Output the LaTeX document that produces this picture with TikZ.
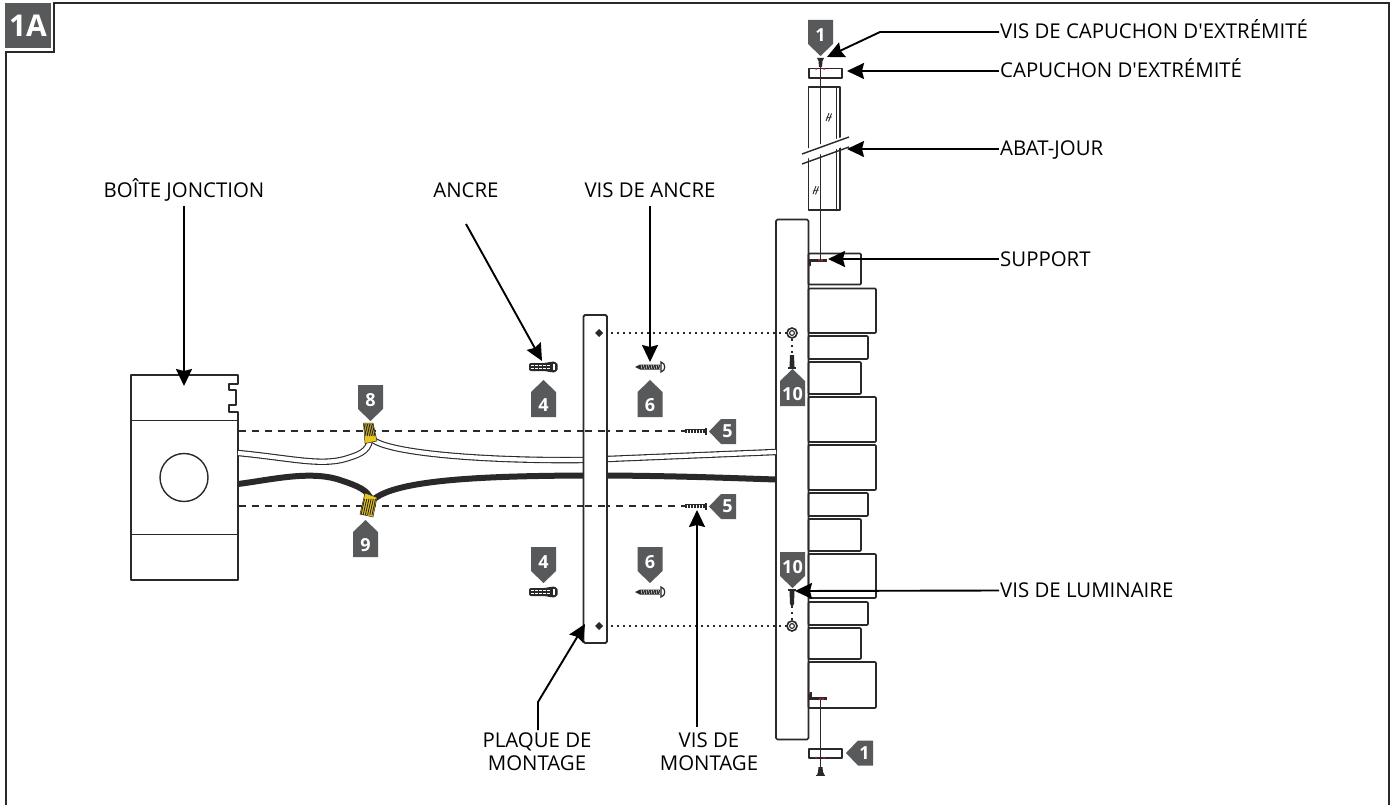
\documentclass[tikz,border=0pt]{standalone}
\usepackage{fontspec}
\newfontfamily\labfont{Open Sans}
\newfontfamily\tagfont{Open Sans}
\usetikzlibrary{arrows.meta,calc}
\definecolor{tagc}{HTML}{58595B}
\definecolor{ink}{HTML}{2A2829}
\definecolor{nut}{HTML}{E8C61E}
\definecolor{redd}{HTML}{D8202A}
\tikzset{
 lab/.style={font=\labfont\fontsize{20.4}{23}\selectfont,text=black,inner sep=0pt,align=center},
 lead/.style={draw=black,line width=1.9pt,-{Stealth[length=17pt,width=16pt,inset=2pt]},line join=miter},
 partline/.style={draw=ink,line width=1.7pt,line join=round},
 tagbody/.style={fill=tagc,draw=none},
 tagtxt/.style={text=white,inner sep=0pt,font=\tagfont\bfseries\fontsize{18}{18}\selectfont},
 dot/.style={draw=ink,line width=1.3pt,dash pattern=on 2pt off 4pt},
 dsh/.style={draw=ink,line width=1.2pt,dash pattern=on 7pt off 6pt},
}
\newcommand{\tagdown}[4]{\fill[tagbody] (#2-12.5,#3) -- (#2+12.5,#3) -- (#2+12.5,#3+24) -- (#2,#3+36) -- (#2-12.5,#3+24) -- cycle;
 \node[tagtxt] (#1) at (#2,#3+15) {#4};}
\newcommand{\tagup}[4]{\fill[tagbody] (#2,#3) -- (#2+12.5,#3+12) -- (#2+12.5,#3+37) -- (#2-12.5,#3+37) -- (#2-12.5,#3+12) -- cycle;
 \node[tagtxt] (#1) at (#2,#3+25) {#4};}
\newcommand{\tagleft}[4]{\fill[tagbody] (#2,#3) -- (#2+12,#3-12.5) -- (#2+27,#3-12.5) -- (#2+27,#3+12.5) -- (#2+12,#3+12.5) -- cycle;
 \node[tagtxt] (#1) at (#2+18.5,#3) {#4};}
\newcommand{\lampblock}[3]{\draw[partline,rounded corners=1pt] (808.5,#1) rectangle (#3,#2);}
\newcommand{\anchorpart}[2]{
 \fill[ink,rounded corners=2pt] (#1-15,#2-4) -- (#1+2,#2-4) -- (#1+7,#2-5.5) -- (#1+13,#2-5) -- (#1+14,#2) -- (#1+13,#2+5) -- (#1+7,#2+5.5) -- (#1+2,#2+4) -- (#1-15,#2+4) -- cycle;
 \draw[white,line width=.8pt,dash pattern=on 2.5pt off 1.5pt] (#1-13,#2-1.6) -- (#1+7,#2-1.6);
 \draw[white,line width=.8pt,dash pattern=on 2.5pt off 1.5pt] (#1-13,#2+1.6) -- (#1+7,#2+1.6);
 \fill[white] (#1+9,#2-3) rectangle (#1+11,#2+3);}
\newcommand{\woodscrew}[2]{
 \fill[ink] (#1-15,#2) -- (#1-10,#2-2.5) -- (#1+10,#2-2.5) -- (#1+10,#2+2.5) -- (#1-10,#2+2.5) -- cycle;
 \foreach \i in {-9,-6.5,...,9}{\draw[white,line width=.4pt] (#1+\i,#2-2) -- (#1+\i+1,#2+2);}
 \draw[ink,line width=1.2pt,fill=white] (#1+11,#2-5) .. controls (#1+16,#2-4) and (#1+16,#2+4) .. (#1+11,#2+5) -- cycle;}
\newcommand{\minscrew}[2]{
 \fill[ink] (#1-21,#2-2) rectangle (#1-1,#2+2);
 \foreach \i in {-19,-16,...,-3}{\draw[white,line width=.4pt] (#1+\i,#2-1.5) -- (#1+\i,#2+1.5);}
 \fill[ink] (#1-1,#2-3.5) rectangle (#1+1,#2+3.5);}
\newcommand{\washer}[2]{
 \draw[ink,line width=1.6pt,fill=white] (#1,#2) circle (5);
 \draw[ink,line width=1.1pt] (#1,#2) circle (2.4);}
\begin{document}
\begin{tikzpicture}[x=1pt,y=-1pt]
\useasboundingbox (0,0) rectangle (1391,805);
% frame
\draw[draw=ink,line width=2pt] (6,805) -- (6,52) -- (54,52) -- (54,3.5) -- (1388.5,3.5) -- (1388.5,805);
\fill[tagc] (5,3) rectangle (51,48);
\node[tagtxt,font=\tagfont\bfseries\fontsize{30}{30}\selectfont] (title) at (28,26) {1A};

% fixture bar and light blocks
\draw[partline,rounded corners=1.5pt,fill=white] (776,219.5) rectangle (808.5,739.5);
\foreach \a/\b/\c in {253.5/284.5/861,288.5/333/876,336/359/868,362/394/861,397/442/876,445/490/876,493/516/868,519/551/861,554/598/876,602/625/868,628/659/861,662/708/876}{\lampblock{\a}{\b}{\c}}

% shade
\draw[partline] (808.5,87) rectangle (840,210);
\draw[ink,line width=.9pt] (836,87) -- (836,210);
\draw[ink,line width=1.3pt] (820.5,60) -- (820.5,259);
\fill[white] (800,161) -- (851,144) -- (851,134) -- (800,151) -- cycle;
\draw[ink,line width=1.4pt] (802,154) -- (849,137);
\draw[ink,line width=1.4pt] (802,164) -- (849,147);
\foreach \p in {(829,117),(816,190)}{
 \draw[ink,line width=.9pt] \p ++(-3,4) -- ++(3,-8);
 \draw[ink,line width=.9pt] \p ++(-0.5,4.5) -- ++(3,-8);
 \draw[ink,line width=.6pt] \p ++(-3,1) -- ++(6,-1);}

% end caps
\draw[partline,fill=white] (809,68.5) rectangle (842,78);
\draw[ink,line width=1.3pt] (820.5,60) -- (820.5,82);
\fill[redd] (816,69) circle (1) (824,69) circle (1);
\draw[ink,line width=1.3pt] (820.5,698) -- (820.5,770);
\draw[partline,fill=white] (809,749) rectangle (842,758);
\draw[ink,line width=1.3pt] (820.5,745) -- (820.5,770);
\fill[redd] (816,757.5) circle (1) (824,757.5) circle (1);

% cap screws
\fill[ink] (817,58) -- (824,58) -- (822.5,61) -- (822,67) -- (819,67) -- (818.5,61) -- cycle;
\fill[ink] (817,775) -- (824.5,775) -- (823,772) -- (822.5,767) -- (818.5,767) -- (818,772) -- cycle;
\draw[ink,line width=.8pt] (816,775.5) -- (825,775.5);

% brackets
\fill[ink] (809,258.5) rectangle (827,262);
\fill[ink] (809,258.5) rectangle (811,266);
\fill[redd] (819,260) circle (1.1) (822,260) circle (1.1) (809.5,266) circle (.9);
\fill[ink] (809,696.5) rectangle (827,700);
\fill[ink] (809,692) rectangle (811.5,700);
\fill[redd] (820,699) circle (1.1) (823,699) circle (1.1) (809.5,693) circle (.9);

% fixing guides
\draw[dot] (599,333) -- (787,333);
\draw[dot] (599,626) -- (787,626);
\draw[dot] (792,339) -- (792,354);
\draw[dot] (792,606) -- (792,620);
\washer{792}{333}\washer{792}{626}

% fixture screws
\fill[ink] (790,355) -- (794,355) -- (794.5,367) -- (789.5,367) -- cycle;
\draw[ink,line width=1.4pt] (788,368) -- (796,368);
\fill[ink] (789.5,591) -- (794.5,591) -- (794,604) -- (792,607) -- (790,604) -- cycle;
\draw[ink,line width=1.6pt] (788,590) -- (796,590);

% junction box
\draw[partline] (131,375) -- (238,375) -- (238,384) -- (229,384) -- (229,390) -- (236,390) -- (236,405) -- (229,405) -- (229,412) -- (238,412) -- (238,580) -- (131,580) -- cycle;
\draw[partline] (131,420.5) -- (238,420.5);
\draw[partline] (131,534.5) -- (238,534.5);
\draw[partline,line width=1.4pt] (184,477.5) circle (24);

% dashed guides
\draw[dsh] (239,431) -- (685,431);
\draw[dsh] (239,506) -- (685,506);

% wires
\foreach \w/\c in {6.4/ink,4.2/white}{
 \draw[\c,line width=\w pt] (238,453) .. controls (290,458) and (320,466) .. (345,459) .. controls (358,455) and (368,452) .. (370,440);
 \draw[\c,line width=\w pt] (373,440) .. controls (395,455) and (500,461) .. (583,460) -- (607,459) -- (776,452);
}
\draw[ink,line width=6pt] (238,484) .. controls (270,480) and (310,470) .. (340,480) .. controls (358,486) and (368,490) .. (371,500);
\draw[ink,line width=6pt] (373,500) .. controls (395,480) and (480,476) .. (583,475.5) -- (607,475.5) .. controls (680,476) and (730,478) .. (776,479.5);

% mounting plate
\draw[partline,line width=1.8pt,rounded corners=1.5pt,fill=white] (583.5,315) rectangle (607,643);
\draw[dsh] (585,431) -- (606,431);
\draw[dsh] (585,506) -- (606,506);
\fill[ink] (599,329) -- (603,333) -- (599,337) -- (595,333) -- cycle;
\fill[ink] (599,622) -- (603,626) -- (599,630) -- (595,626) -- cycle;

% wire nuts
\fill[nut,draw=ink,line width=.5pt] (363.5,423) -- (373,423) -- (377,441) -- (365,443.5) -- cycle;
\foreach \k in {0,2,...,10}{\draw[ink,line width=.9pt] (364+\k*.85,424) -- (366+\k*.9,436);}
\fill[nut,draw=ink,line width=.5pt] (365,493) -- (377,497.5) -- (373,517) -- (360,514) -- cycle;
\foreach \k in {0,2,...,10}{\draw[ink,line width=.9pt] (364.5+\k*1.1,499) -- (361+\k*1.1,515);}

% small hardware
\anchorpart{544}{367}\anchorpart{544}{592}
\woodscrew{650}{367}\woodscrew{650}{592}
\minscrew{706}{431}\minscrew{706}{506}

% number tags
\tagdown{tA}{820.5}{20}{1}
\tagleft{tB}{846}{753}{1}
\tagup{tC}{792.5}{369}{10}
\tagdown{tD}{792.5}{552}{10}
\tagdown{tE}{370.5}{385}{8}
\tagup{tF}{365.5}{520}{9}
\tagup{tG}{543.5}{380}{4}
\tagup{tH}{650}{380}{6}
\tagdown{tI}{543.5}{547}{4}
\tagdown{tJ}{650}{547}{6}
\tagleft{tK}{709}{431.5}{5}
\tagleft{tL}{709}{506.5}{5}

% labels
\node[lab,anchor=base west] (l1) at (1000,39) {VIS DE CAPUCHON D'EXTRÉMITÉ};
\node[lab,anchor=base west] (l2) at (1000,78) {CAPUCHON D'EXTRÉMITÉ};
\node[lab,anchor=base west] (l3) at (1000,156) {ABAT-JOUR};
\node[lab,anchor=base west] (l4) at (1000,266) {SUPPORT};
\node[lab,anchor=base west] (l5) at (1000,597.5) {VIS DE LUMINAIRE};
\node[lab,anchor=base] (l6) at (184,197) {BOÎTE JONCTION};
\node[lab,anchor=base] (l7) at (466,197) {ANCRE};
\node[lab,anchor=base] (l8) at (650,197) {VIS DE ANCRE};
\node[lab] (l9) at (537,752) {PLAQUE DE\\MONTAGE};
\node[lab] (l10) at (709,752) {VIS DE\\MONTAGE};

% arrow targets
\coordinate (p1) at (827,57);
\coordinate (p2) at (847,71);
\coordinate (p3) at (847,149);
\coordinate (p4) at (828,259);
\coordinate (p5) at (795,591);
\coordinate (p6) at (184,386);
\coordinate (p7) at (542,361);
\coordinate (p8) at (650,362);
\coordinate (p9) at (585,624);
\coordinate (p10) at (697,510);
\coordinate (s6) at (184,206);
\coordinate (s7) at (466,224);
\coordinate (s8) at (650,206);
\coordinate (s9) at (538,730);
\coordinate (s10) at (697,727);
\draw[lead] ($(l1.base west)+(-1,-7)$) -- ++(-119,0) -- (p1);
\draw[lead] ($(l2.base west)+(-1,-7)$) -- (p2);
\draw[lead] ($(l3.base west)+(-1,-7)$) -- (p3);
\draw[lead] ($(l4.base west)+(-1,-7)$) -- (p4);
\draw[lead] ($(l5.base west)+(-1,-7)$) -- (p5);
\draw[lead] (s6) -- (p6);
\draw[lead] (s7) -- (p7);
\draw[lead] (s8) -- (p8);
\draw[lead] (s9) -- (538,702) -- (p9);
\draw[lead] (s10) -- (p10);
\end{tikzpicture}
\end{document}
